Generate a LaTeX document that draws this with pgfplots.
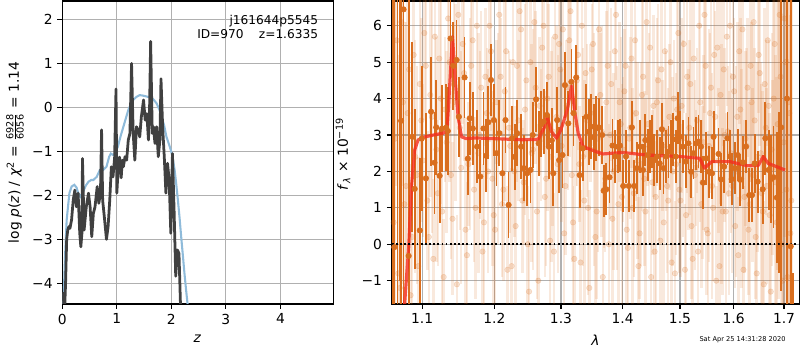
\documentclass[border=0pt]{standalone}
\usepackage{fontspec}
\setmainfont{DejaVu Sans}
\usepackage{pgfplots}
\pgfplotsset{compat=1.18}
\usepackage{pgfplotstable}

\definecolor{orng}{RGB}{217,110,30}
\definecolor{pzblue}{RGB}{143,187,218}
\definecolor{pzblack}{RGB}{64,64,64}
\definecolor{modelred}{RGB}{245,45,30}
\definecolor{gridgray}{RGB}{176,176,176}

\pgfplotstableread{
z v
0.00 -4.2
0.02 -4.5
0.04 -4.7
0.06 -4.0
0.08 -3.0
0.10 -2.79
0.12 -2.71
0.14 -2.75
0.17 -2.56
0.20 -2.11
0.23 -1.88
0.26 -2.26
0.29 -1.95
0.32 -2.86
0.34 -3.17
0.36 -2.86
0.37 -1.16
0.40 -2.79
0.44 -2.26
0.48 -1.95
0.51 -2.26
0.54 -2.94
0.57 -2.41
0.60 -2.26
0.64 -1.80
0.67 -2.18
0.70 -1.95
0.72 -0.51
0.74 -2.11
0.77 -2.48
0.81 -3.0
0.84 -2.71
0.87 -2.11
0.90 -1.35
0.93 -1.58
0.96 -1.13
0.985 0.42
1.00 -1.95
1.02 -1.50
1.05 -1.13
1.08 -1.6
1.10 -1.2
1.12 -1.35
1.15 -1.12
1.18 -1.2
1.21 -0.74
1.24 -0.59
1.27 1.0
1.30 -0.59
1.33 -1.2
1.36 -0.44
1.39 -0.51
1.42 -0.67
1.45 -0.21
1.49 0.17
1.52 -0.29
1.55 -0.14
1.58 -0.74
1.60 -0.06
1.62 1.5
1.65 -0.59
1.67 -0.44
1.70 -0.82
1.73 -0.44
1.76 -1.12
1.79 -0.74
1.81 0.65
1.84 -0.44
1.87 -1.12
1.90 -1.95
1.93 -1.27
1.96 -1.65
1.99 -2.86
2.02 -1.05
2.05 -2.33
2.08 -3.84
2.11 -3.24
2.14 -3.32
2.17 -4.6
2.19 -6
}\pzdata

\pgfplotstableread{
z v
0.00 -6
0.02 -4.5
0.05 -3.4
0.08 -2.56
0.13 -1.95
0.17 -1.80
0.22 -1.76
0.26 -1.82
0.30 -1.97
0.33 -2.03
0.38 -1.92
0.43 -1.78
0.48 -1.69
0.53 -1.65
0.57 -1.65
0.63 -1.58
0.69 -1.42
0.75 -1.42
0.81 -1.35
0.86 -1.12
0.89 -1.05
0.93 -1.08
0.96 -1.06
1.02 -0.89
1.07 -0.65
1.12 -0.44
1.16 -0.27
1.21 -0.06
1.26 0.08
1.30 0.17
1.36 0.24
1.42 0.28
1.47 0.27
1.51 0.26
1.57 0.24
1.63 0.23
1.68 0.17
1.73 0.09
1.78 -0.05
1.82 -0.21
1.87 -0.42
1.91 -0.67
1.96 -0.85
2.00 -1.01
2.03 -1.20
2.06 -1.42
2.09 -1.75
2.12 -2.11
2.15 -2.50
2.18 -2.94
2.21 -3.35
2.24 -3.77
2.27 -4.15
2.30 -4.50
2.35 -5.0
2.40 -5.6
}\pzsmooth

\pgfplotstableread{
x y e
1.063 0.6 5.0
1.067 5.6 4.0
1.071 -1.2 6.0
1.075 3.9 5.0
1.079 1.6 4.5
1.083 4.8 4.0
1.087 0.2 3.5
1.091 2.4 3.2
1.095 -0.6 3.0
1.099 3.4 2.8
1.103 5.8 2.4
1.107 1.2 1.9
1.111 4.1 2.8
1.115 -0.4 2.2
1.119 2.6 3.1
1.123 5.1 1.7
1.127 0.9 2.6
1.131 3.7 2.0
1.135 6.2 3.0
1.139 1.9 2.3
1.143 4.4 2.4
1.147 -1.1 1.9
1.151 3.2 2.8
1.155 5.5 2.2
1.159 0.4 3.1
1.163 2.2 1.7
1.167 4.9 2.6
1.171 1.5 2.0
1.175 6.0 3.0
1.179 3.0 2.3
1.183 -0.2 2.4
1.187 4.6 1.9
1.191 2.0 2.8
1.195 5.3 2.2
1.199 0.8 3.1
1.203 3.9 1.7
1.207 6.3 2.6
1.211 1.1 2.0
1.215 4.2 3.0
1.219 -0.7 2.3
1.223 2.7 2.4
1.227 5.0 1.9
1.231 0.5 2.8
1.235 3.4 2.2
1.239 5.9 3.1
1.243 1.7 1.7
1.247 4.5 2.6
1.251 -1.3 2.0
1.255 2.5 3.0
1.259 6.1 2.3
1.263 0.9 2.4
1.267 3.8 1.9
1.271 5.4 2.8
1.275 1.3 2.2
1.279 4.0 3.1
1.283 0.1 1.7
1.287 3.1 2.6
1.291 5.7 2.0
1.295 2.2 3.0
1.299 4.8 2.3
1.303 5.9 2.4
1.307 1.6 1.9
1.311 4.3 2.8
1.315 6.4 2.2
1.319 0.6 3.1
1.323 3.3 1.7
1.327 5.2 2.6
1.331 -0.5 2.0
1.335 2.4 3.0
1.339 4.7 2.3
1.343 1.0 2.4
1.347 3.6 1.9
1.351 5.5 2.8
1.355 0.2 2.2
1.359 2.9 3.1
1.363 4.1 1.7
1.367 -0.9 2.6
1.371 1.8 2.0
1.375 4.9 3.0
1.379 3.0 2.3
1.383 0.7 2.4
1.387 5.3 1.9
1.391 2.1 2.8
1.395 3.9 2.2
1.399 1.3 3.1
1.403 4.2 1.7
1.407 0.4 2.6
1.411 2.9 2.0
1.415 5.1 3.0
1.419 1.4 2.3
1.423 3.6 2.4
1.427 -0.6 1.9
1.431 2.2 2.8
1.435 4.6 2.2
1.439 0.9 3.1
1.443 3.3 1.7
1.447 5.4 2.6
1.451 1.7 2.0
1.455 -0.2 3.0
1.459 3.9 2.3
1.463 2.5 2.4
1.467 4.8 1.9
1.471 0.6 2.8
1.475 3.1 2.2
1.479 1.2 3.1
1.483 5.0 1.7
1.487 2.0 2.6
1.491 -0.8 2.0
1.495 3.7 3.0
1.499 1.5 2.3
1.503 3.8 2.4
1.507 5.5 1.9
1.511 0.8 2.8
1.515 2.6 2.2
1.519 4.4 3.1
1.523 -0.4 1.7
1.527 1.9 2.6
1.531 3.4 2.0
1.535 6.0 3.0
1.539 1.1 2.3
1.543 2.8 2.4
1.547 4.9 1.9
1.551 0.3 2.8
1.555 3.6 2.2
1.559 1.6 3.1
1.563 5.2 1.7
1.567 -1.0 2.6
1.571 2.3 2.0
1.575 4.1 3.0
1.579 0.9 2.3
1.583 3.0 2.4
1.587 5.7 1.9
1.591 1.4 2.8
1.595 2.5 2.2
1.599 4.6 3.1
1.603 0.5 1.7
1.607 3.5 2.6
1.611 5.3 2.0
1.615 1.8 3.0
1.619 -0.7 2.3
1.623 2.9 2.4
1.627 4.3 1.9
1.631 1.1 2.8
1.635 3.9 2.2
1.639 6.1 3.1
1.643 0.2 1.7
1.647 2.4 2.6
1.651 4.7 2.0
1.655 1.4 3.0
1.659 -1.1 2.3
1.663 3.2 2.4
1.667 5.6 2.9
1.671 0.8 2.8
1.675 2.6 3.2
1.679 4.0 3.0
1.683 1.7 3.5
1.687 3.3 4.0
1.691 6.3 4.5
1.695 0.0 5.0
1.699 2.8 5.5
1.703 5.0 6.0
1.707 -0.9 6.0
1.711 3.6 6.0
1.715 1.2 6.0
}\lightdata

\pgfplotstableread{
x y e
1.065 2.9 5.0
1.069 -0.8 6.0
1.073 6.1 4.5
1.077 1.1 5.0
1.081 3.6 4.0
1.085 -1.4 3.6
1.089 5.2 3.3
1.093 1.9 3.0
1.097 4.4 2.8
1.101 2.3 2.1
1.105 4.9 2.7
1.109 0.2 1.8
1.113 3.5 3.2
1.117 5.7 2.4
1.121 1.4 2.0
1.125 4.0 2.9
1.129 -0.9 1.6
1.133 2.8 2.5
1.137 5.0 3.3
1.141 0.7 2.1
1.145 3.9 2.7
1.149 6.3 1.8
1.153 2.1 3.2
1.157 4.7 2.4
1.161 -0.3 2.0
1.165 3.3 2.9
1.169 5.6 1.6
1.173 1.0 2.5
1.177 2.5 3.3
1.181 4.3 2.1
1.185 0.6 2.7
1.189 3.6 1.8
1.193 6.0 3.2
1.197 1.8 2.4
1.201 0.4 2.0
1.205 2.9 2.9
1.209 4.6 1.6
1.213 1.5 2.5
1.217 5.3 3.3
1.221 3.2 2.1
1.225 -0.6 2.7
1.229 2.0 1.8
1.233 4.9 3.2
1.237 6.4 2.4
1.241 1.2 2.0
1.245 3.7 2.9
1.249 0.0 1.6
1.253 5.0 2.5
1.257 2.6 3.3
1.261 4.3 2.1
1.265 -1.0 2.7
1.269 3.0 1.8
1.273 6.0 3.2
1.277 1.8 2.4
1.281 4.6 2.0
1.285 2.4 2.9
1.289 -0.2 1.6
1.293 3.5 2.5
1.297 5.5 3.3
1.301 2.7 2.1
1.305 0.3 2.7
1.309 3.8 1.8
1.313 5.6 3.2
1.317 1.9 2.4
1.321 -0.4 2.0
1.325 4.5 2.9
1.329 2.2 1.6
1.333 6.0 2.5
1.337 1.2 3.3
1.341 3.4 2.1
1.345 -1.2 2.7
1.349 4.8 1.8
1.353 2.6 3.2
1.357 0.9 2.4
1.361 5.9 2.0
1.365 3.1 2.9
1.369 1.5 1.6
1.373 3.9 2.5
1.377 0.0 3.3
1.381 4.4 2.1
1.385 2.0 2.7
1.389 6.3 1.8
1.393 1.1 3.2
1.397 3.3 2.4
1.401 2.6 2.0
1.405 4.9 2.9
1.409 -0.1 1.6
1.413 3.2 2.5
1.417 1.0 3.3
1.421 5.6 2.1
1.425 2.3 2.7
1.429 0.3 1.8
1.433 4.1 3.2
1.437 1.8 2.4
1.441 6.1 2.0
1.445 2.9 2.9
1.449 -0.9 1.6
1.453 3.8 2.5
1.457 1.3 3.3
1.461 4.5 2.1
1.465 0.1 2.7
1.469 2.7 1.8
1.473 5.3 3.2
1.477 1.6 2.4
1.481 3.5 2.0
1.485 -0.5 2.9
1.489 4.0 1.6
1.493 2.2 2.5
1.497 5.8 3.3
1.501 1.2 2.1
1.505 2.9 2.7
1.509 -0.7 1.8
1.513 4.6 3.2
1.517 3.2 2.4
1.521 0.5 2.0
1.525 5.1 2.9
1.529 2.1 1.6
1.533 -0.2 2.5
1.537 3.9 3.3
1.541 1.7 2.1
1.545 6.3 2.7
1.549 0.4 1.8
1.553 2.7 3.2
1.557 4.3 2.4
1.561 1.0 2.0
1.565 3.5 2.9
1.569 5.4 1.6
1.573 -0.6 2.5
1.577 2.2 3.3
1.581 4.8 2.1
1.585 0.9 2.7
1.589 3.1 1.8
1.593 6.0 3.2
1.597 1.6 2.4
1.601 4.2 2.0
1.605 2.0 2.9
1.609 -0.3 1.6
1.613 3.7 2.5
1.617 5.9 3.3
1.621 1.3 2.1
1.625 2.7 2.7
1.629 0.4 1.8
1.633 4.9 3.2
1.637 1.9 2.4
1.641 3.4 2.0
1.645 -0.8 2.9
1.649 5.2 1.6
1.653 2.5 2.5
1.657 0.9 3.3
1.661 4.4 2.1
1.665 1.6 2.7
1.669 3.8 1.8
1.673 -1.3 3.2
1.677 2.1 2.4
1.681 5.5 3.5
1.685 0.6 4.0
1.689 3.0 4.5
1.693 4.6 5.0
1.697 -1.0 5.5
1.701 6.2 6.0
1.705 1.5 6.0
1.709 3.9 6.0
1.713 0.3 6.0
}\lightdatab

\pgfplotstableread{
x y e
1.0625 8.0 10
1.0639 -0.08 10
1.0680 -2.5 10
1.0706 9.0 10
1.0727 3.39 10
1.0758 6.45 10
1.0824 -0.32 10
1.0873 2.95 2.6
1.0903 1.52 2.2
1.0970 0.38 2.0
1.0995 2.9 2.0
1.1051 1.81 1.8
1.1120 3.64 1.5
1.1166 2.24 1.4
1.1189 3.21 1.3
1.1235 1.88 1.3
1.1268 3.18 1.2
1.1323 3.2 1.2
1.1346 3.11 1.2
1.1383 5.65 1.1
1.1420 4.9 1.2
1.1466 5.06 1.1
1.1498 3.50 1.1
1.1577 4.58 1.1
1.1622 2.35 1.0
1.1650 3.46 1.0
1.1692 3.18 1.0
1.1752 2.68 1.0
1.1798 1.86 1.0
1.1843 3.18 1.0
1.1881 2.43 1.0
1.1913 3.35 1.0
1.1950 4.51 1.0
1.1992 3.41 1.0
1.2030 2.5 0.9
1.2071 3.05 0.9
1.2116 1.95 0.9
1.2161 3.41 0.9
1.2206 1.08 0.9
1.2257 2.91 0.9
1.2295 2.4 0.9
1.2332 3.05 0.9
1.2392 2.68 0.9
1.2431 2.09 0.9
1.2482 1.95 0.9
1.2532 2.04 0.9
1.2566 3.00 0.9
1.2617 3.98 0.9
1.2656 2.77 0.9
1.2697 3.30 0.9
1.2731 3.37 0.9
1.2782 3.55 0.9
1.2812 2.68 0.9
1.2857 2.85 0.9
1.2881 1.95 0.9
1.2941 3.41 0.9
1.2971 2.31 0.9
1.3024 2.45 0.9
1.3062 4.37 0.9
1.3115 3.32 0.9
1.3164 4.46 0.9
1.3197 3.60 0.9
1.3241 4.58 0.9
1.3294 1.90 0.9
1.3343 2.63 0.9
1.3403 3.50 0.9
1.3441 3.09 0.9
1.3480 3.23 0.9
1.3522 2.94 0.9
1.3561 3.18 0.9
1.3603 3.21 0.8
1.3659 3.00 0.8
1.3685 1.47 0.72
1.3728 1.51 0.72
1.3782 1.84 0.72
1.3831 2.71 0.72
1.3875 2.41 0.72
1.3918 2.68 0.72
1.3956 2.71 0.72
1.4010 1.60 0.72
1.4057 2.41 0.72
1.4105 1.60 0.72
1.4157 3.21 0.72
1.4197 1.60 0.72
1.4244 2.09 0.72
1.4301 2.68 0.72
1.4348 2.04 0.72
1.4388 2.86 0.72
1.4429 2.45 0.72
1.4463 2.68 0.72
1.4505 2.82 0.72
1.4545 2.31 0.72
1.4592 2.41 0.72
1.4638 2.22 0.72
1.4679 3.16 0.72
1.4707 2.09 0.72
1.4754 2.41 0.72
1.4794 2.54 0.72
1.4836 2.68 0.72
1.4882 2.88 0.72
1.4923 2.41 0.72
1.4958 3.46 0.72
1.4998 2.95 0.72
1.5049 2.68 0.72
1.5104 2.27 0.72
1.5153 2.77 0.72
1.5203 1.99 0.72
1.5246 2.50 0.72
1.5291 2.77 0.72
1.5340 2.82 0.72
1.5384 2.68 0.72
1.5422 1.69 0.72
1.5483 2.36 0.72
1.5534 1.99 0.72
1.5590 1.95 0.72
1.5619 2.95 0.72
1.5713 2.48 0.72
1.5763 1.78 0.72
1.5819 2.13 0.72
1.5881 2.91 0.72
1.5931 2.41 0.72
1.5963 1.79 0.72
1.6026 2.09 0.72
1.6080 2.45 0.72
1.6125 1.77 0.72
1.6179 2.25 0.72
1.6239 2.68 0.72
1.6304 1.35 0.75
1.6358 1.35 0.75
1.6410 2.22 0.8
1.6469 1.72 0.85
1.6569 1.51 0.95
1.6622 2.91 1.0
1.6688 2.04 1.1
1.6736 1.79 1.2
1.6787 1.84 1.4
1.6855 1.28 1.8
1.6901 1.42 2.2
1.6940 3.21 4.5
1.7060 4.0 10
1.7137 -0.06 10
1.7185 -2.6 1.8
}\darkdata

\pgfplotstableread{
x y
1.066 -6
1.0773 -1.6
1.0825 -0.07
1.0861 1.58
1.0904 2.59
1.0947 2.86
1.1000 2.93
1.1150 3.00
1.1280 3.05
1.1336 3.12
1.1373 4.40
1.1410 5.70
1.1441 4.70
1.1487 3.50
1.1534 2.95
1.1600 2.90
1.1720 2.92
1.2000 2.90
1.2400 2.87
1.2648 2.88
1.2740 3.20
1.2785 3.50
1.2850 3.10
1.2931 2.91
1.3000 3.15
1.3100 3.70
1.3167 4.35
1.3220 3.60
1.3272 3.05
1.3350 2.68
1.3568 2.54
1.3676 2.48
1.4000 2.52
1.4410 2.45
1.5000 2.41
1.5360 2.36
1.5448 2.09
1.5584 2.27
1.5927 2.27
1.6253 2.16
1.6480 2.16
1.6580 2.41
1.6680 2.22
1.7020 2.04
}\modeldata

\pgfplotsset{mpl/.style={
  scale only axis,
  axis line style={line width=0.8pt, black},
  tick style={black, line width=0.8pt},
  tick align=outside,
  major tick length=3.5pt,
  xtick pos=bottom, ytick pos=left,
  grid=major,
  grid style={gridgray, line width=0.8pt},
  tick label style={font=\fontsize{10}{12}\selectfont},
}}

\begin{document}
\begin{tikzpicture}
\useasboundingbox (0,0) rectangle (8in,3.5in);

\begin{axis}[mpl, at={(0.623in,0.46in)}, anchor=south west,
  width=2.71in, height=3.03in,
  xmin=0, xmax=4.97, ymin=-4.47, ymax=2.42,
  xtick={0,1,2,3,4}, xticklabels={0,1,2,3,4},
  ytick={-4,-3,-2,-1,0,1,2}, yticklabels={−4,−3,−2,−1,0,1,2}]
\addplot[pzblue, line width=1.5pt] table[x=z, y=v] {\pzsmooth};
\addplot[pzblack, line width=2pt, line join=round] table[x=z, y=v] {\pzdata};
\end{axis}

\begin{axis}[mpl, at={(3.917in,0.46in)}, anchor=south west,
  width=4.076in, height=3.03in,
  xmode=log, xmin=1.0606, xmax=1.7315, ymin=-1.64, ymax=6.68,
  xtick={1.1,1.2,1.3,1.4,1.5,1.6,1.7},
  xticklabels={1.1,1.2,1.3,1.4,1.5,1.6,1.7},
  minor xtick={},
  ytick={-1,0,1,2,3,4,5,6}, yticklabels={−1,0,1,2,3,4,5,6}]
\addplot[only marks, mark=*, mark size=2pt, orng, opacity=0.16,
  mark options={draw=none, fill=orng, opacity=0.2},
  error bars/.cd, y dir=both, y explicit, error mark=none,
  error bar style={line width=1.8pt, orng, opacity=0.15}]
  table[x=x, y=y, y error=e] {\lightdata};
\addplot[only marks, mark=*, mark size=2pt, orng, opacity=0.16,
  mark options={draw=none, fill=orng, opacity=0.2},
  error bars/.cd, y dir=both, y explicit, error mark=none,
  error bar style={line width=1.8pt, orng, opacity=0.15}]
  table[x=x, y=y, y error=e] {\lightdatab};
\addplot[only marks, mark=*, mark size=2pt, orng,
  mark options={draw=none, fill=orng},
  error bars/.cd, y dir=both, y explicit, error mark=none,
  error bar style={line width=1.3pt, orng}]
  table[x=x, y=y, y error=e] {\darkdata};
\addplot[modelred, opacity=0.8, line width=2.3pt, line join=round] table[x=x, y=y] {\modeldata};
\addplot[black, line width=1.3pt, dash pattern=on 1.3pt off 1.7pt] coordinates {(1.0606,0) (1.7315,0)};
\end{axis}

\node[rotate=90] at (0.15in,1.975in) {log \textit{p}(\textit{z}) / \textit{χ}\textsuperscript{2} = $\frac{\mbox{\fontsize{7}{8}\selectfont 6928}}{\mbox{\fontsize{7}{8}\selectfont 6056}}$ = 1.14};
\node[rotate=90] at (3.43in,1.96in) {\textit{f}\textsubscript{\textit{λ}} × 10\textsuperscript{−19}};
\node at (1.975in,0.11in) {\textit{z}};
\node at (5.955in,0.10in) {\textit{λ}};
\node[anchor=base east, font=\fontsize{8.8}{10}\selectfont] at (3.23in,3.25in) {j161644p5545};
\node[anchor=base east, font=\fontsize{8.8}{10}\selectfont] at (3.23in,3.11in) {ID=970\hspace{11pt}z=1.6335};
\node[font=\fontsize{4.8}{5.5}\selectfont] at (7.425in,0.105in) {Sat Apr 25 14:31:28 2020};
\end{tikzpicture}
\end{document}
